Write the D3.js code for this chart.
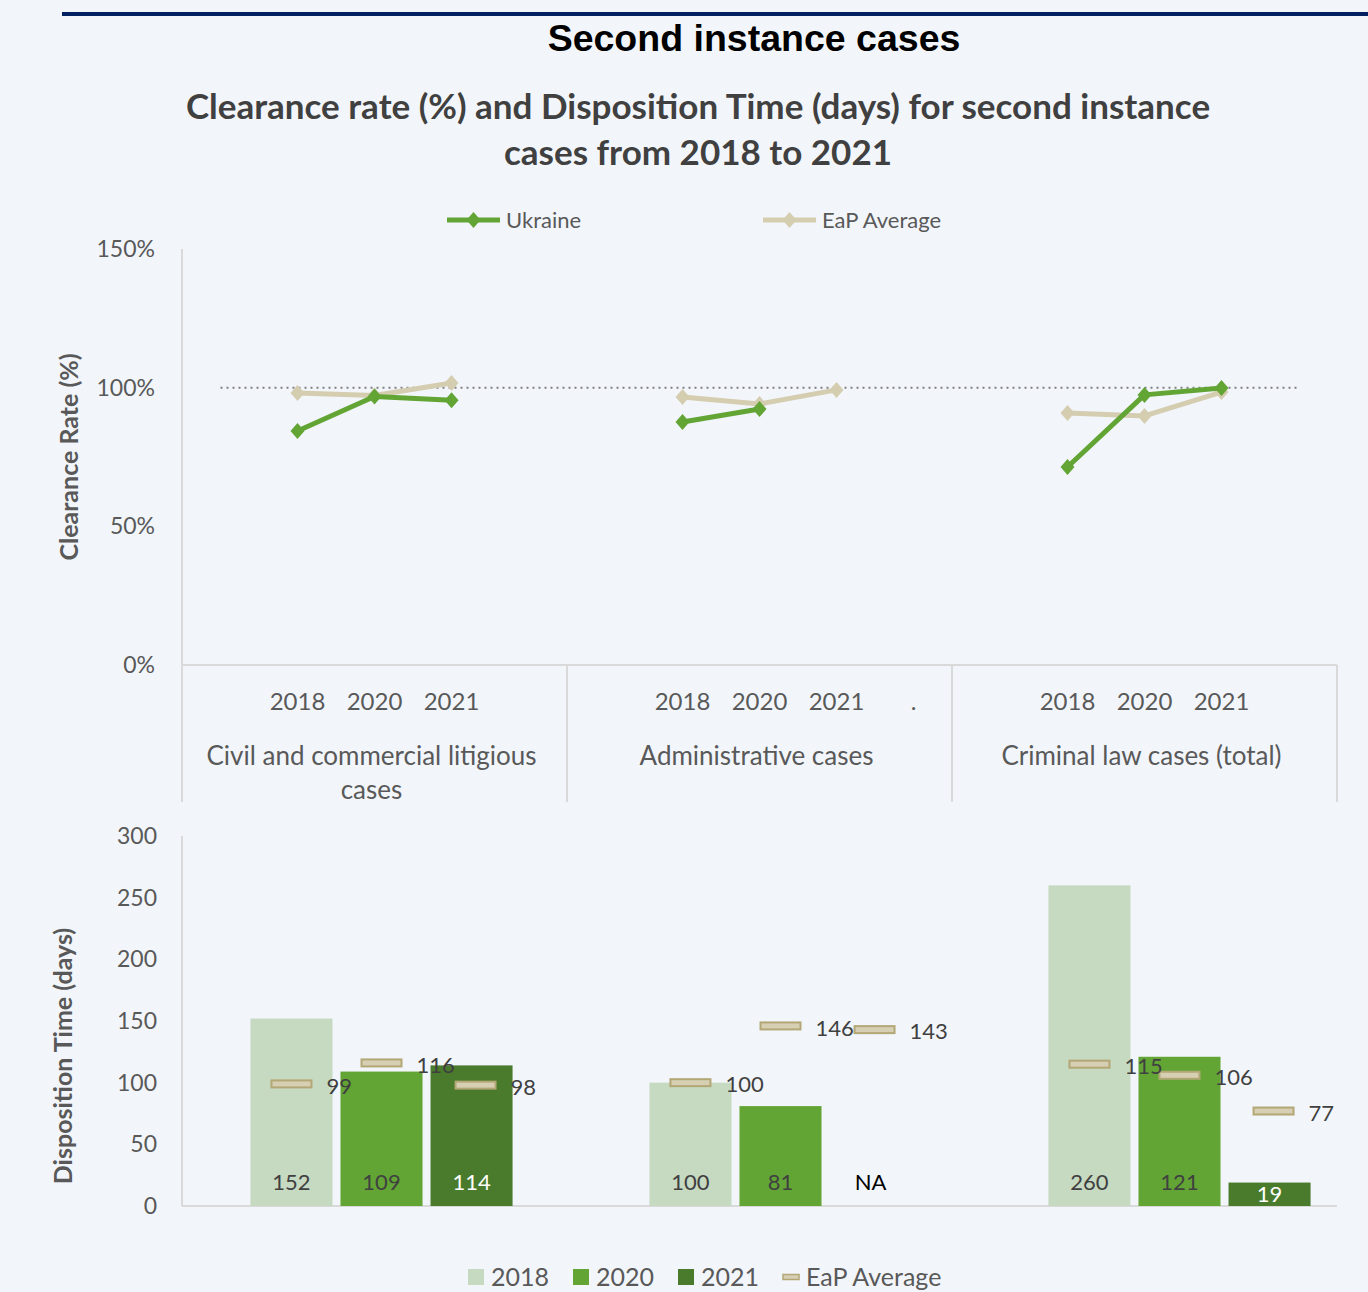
<!DOCTYPE html>
<html>
<head>
<meta charset="utf-8">
<script src="https://cdn.jsdelivr.net/npm/d3@7"></script>
<style>
  body { margin: 0; background: #f2f6fb; }
  svg { display: block; font-family: Lato, "Open Sans", sans-serif; }
</style>
</head>
<body>
<script>
// chart data
var categories = ["Civil and commercial litigious cases", "Administrative cases", "Criminal law cases (total)"];
var years = ["2018", "2020", "2021"];
var crTicks = [0, 50, 100, 150];
var dtTicks = [0, 50, 100, 150, 200, 250, 300];

// clearance rate (%), one row per category
var ukraineCR = [[84.4, 96.8, 95.5], [87.6, 92.3, null], [71.4, 97.4, 99.9]];
var eapCR = [[98.1, 97.2, 101.7], [96.6, 94.1, 99.2], [90.9, 89.8, 98.4]];

// disposition time (days)
var ukraineDT = [[152, 109, 114], [100, 81, null], [260, 121, 19]];
var eapDT = [[99, 116, 98], [100, 146, 143], [115, 106, 77]];

var width = 1368, height = 1292;
var green = "#62a535", beige = "#d5cdb0", gray = "#595959", axisCol = "#d9d9d9";
var barColors = ["#c6d9c1", "#62a535", "#4a7a2b"];
var barText = ["#404040", "#404040", "#ffffff"];

var svg = d3.select("body").append("svg")
  .attr("width", width)
  .attr("height", height);

svg.append("rect").attr("width", width).attr("height", height).attr("fill", "#f2f6fb");

// header
svg.append("line")
  .attr("x1", 62).attr("x2", width).attr("y1", 14).attr("y2", 14)
  .attr("stroke", "#002060").attr("stroke-width", 4);

svg.append("text")
  .attr("x", 754).attr("y", 51)
  .attr("text-anchor", "middle")
  .style("font-family", "'Liberation Sans', Arial, sans-serif")
  .style("font-weight", "bold")
  .style("font-size", "37.5px")
  .attr("fill", "#000")
  .text("Second instance cases");

var sub = svg.append("text")
  .attr("text-anchor", "middle")
  .style("font-weight", "bold")
  .style("font-size", "35px")
  .attr("fill", "#404040");
sub.append("tspan").attr("x", 698).attr("y", 119).text("Clearance rate (%) and Disposition Time (days) for second instance");
sub.append("tspan").attr("x", 698).attr("y", 165).text("cases from 2018 to 2021");

// ---------- top chart: clearance rate ----------
var crBox = { left: 182, right: 1337, top: 249, bottom: 665, foot: 802 };

var xCat = d3.scaleBand().domain(categories).range([crBox.left, crBox.right]);
var slots = ["", "2018", "2020", "2021", "."];
var xSlot = d3.scaleBand().domain(d3.range(5)).range([0, xCat.bandwidth()]);
function slotX(ci, si) { return xCat(categories[ci]) + xSlot(si) + xSlot.bandwidth() / 2; }

var yCR = d3.scaleLinear().domain([0, 150]).range([crBox.bottom, crBox.top]);

// axis frame
svg.append("line")
  .attr("x1", crBox.left).attr("x2", crBox.right)
  .attr("y1", yCR(0)).attr("y2", yCR(0))
  .attr("stroke", axisCol).attr("stroke-width", 2);
svg.selectAll(".sep")
  .data(categories.concat([null]))
  .enter().append("line")
  .attr("x1", (d, i) => crBox.left + i * xCat.bandwidth())
  .attr("x2", (d, i) => crBox.left + i * xCat.bandwidth())
  .attr("y1", (d, i) => i === 0 ? crBox.top : yCR(0))
  .attr("y2", crBox.foot)
  .attr("stroke", axisCol).attr("stroke-width", 2);

svg.selectAll(".crTick")
  .data(crTicks)
  .enter().append("text")
  .attr("x", 155).attr("y", d => yCR(d))
  .attr("dy", "0.35em")
  .attr("text-anchor", "end")
  .style("font-size", "23px")
  .attr("fill", gray)
  .text(d => d + "%");

svg.append("text")
  .attr("transform", "translate(78,457) rotate(-90)")
  .attr("text-anchor", "middle")
  .style("font-size", "25px")
  .style("font-weight", "bold")
  .attr("fill", gray)
  .text("Clearance Rate (%)");

// 100% reference
svg.append("line")
  .attr("x1", slotX(0, 0)).attr("x2", slotX(2, 4))
  .attr("y1", yCR(100)).attr("y2", yCR(100))
  .attr("stroke", "#808080").attr("stroke-width", 2)
  .attr("stroke-dasharray", "2,4");

// year labels
categories.forEach(function(c, ci) {
  slots.forEach(function(s, si) {
    if (!s || (s === "." && ci !== 1)) return;
    svg.append("text")
      .attr("x", slotX(ci, si)).attr("y", 702)
      .attr("dy", "0.35em")
      .attr("text-anchor", "middle")
      .style("font-size", "24px")
      .attr("fill", gray)
      .text(s);
  });
});

// category labels with simple wrapping
categories.forEach(function(c, ci) {
  var t = svg.append("text")
    .attr("text-anchor", "middle")
    .style("font-size", "26px")
    .attr("fill", gray);
  var words = c.split(" "), line = [], lines = [];
  var probe = t.append("tspan");
  words.forEach(function(w) {
    line.push(w);
    probe.text(line.join(" "));
    if (probe.node().getComputedTextLength() > xCat.bandwidth() - 20 && line.length > 1) {
      line.pop();
      lines.push(line.join(" "));
      line = [w];
    }
  });
  lines.push(line.join(" "));
  probe.remove();
  lines.forEach(function(l, li) {
    t.append("tspan")
      .attr("x", xCat(c) + xCat.bandwidth() / 2 - 3)
      .attr("y", 756 + li * 34)
      .attr("dy", "0.35em")
      .text(l);
  });
});

var diamond = "M0,-8L7,0L0,8L-7,0Z";
var lineGen = d3.line()
  .defined(d => d.v != null)
  .x(d => d.x)
  .y(d => yCR(d.v));

function drawSeries(rows, color) {
  rows.forEach(function(row, ci) {
    var pts = row.map((v, i) => ({ x: slotX(ci, i + 1), v: v }));
    svg.append("path")
      .datum(pts)
      .attr("d", lineGen)
      .attr("fill", "none")
      .attr("stroke", color)
      .attr("stroke-width", 5)
      .attr("stroke-linejoin", "round");
    svg.selectAll(null)
      .data(pts.filter(d => d.v != null))
      .enter().append("path")
      .attr("d", diamond)
      .attr("transform", d => "translate(" + d.x + "," + yCR(d.v) + ")")
      .attr("fill", color);
  });
}
drawSeries(eapCR, beige);
drawSeries(ukraineCR, green);

// top legend
[{ name: "Ukraine", color: green, x: 447 }, { name: "EaP Average", color: beige, x: 763 }].forEach(function(l) {
  var g = svg.append("g").attr("transform", "translate(" + l.x + ",220)");
  g.append("line").attr("x1", 0).attr("x2", 53).attr("stroke", l.color).attr("stroke-width", 5);
  g.append("path").attr("d", diamond).attr("transform", "translate(26.5,0)").attr("fill", l.color);
  g.append("text").attr("x", 59).attr("dy", "0.35em")
    .style("font-size", "22px").attr("fill", gray).text(l.name);
});

// ---------- bottom chart: disposition time ----------
var dtBox = { left: 182, right: 1337, top: 836, bottom: 1206 };
var xGroup = d3.scaleBand().domain(categories).range([dtBox.left, 1379]);
var xYear = d3.scaleBand().domain(years).range([0, xGroup.bandwidth()])
  .paddingInner(0.089).paddingOuter(0.76);
var yDT = d3.scaleLinear().domain([0, 300]).range([dtBox.bottom, dtBox.top]);

svg.append("line")
  .attr("x1", dtBox.left).attr("x2", dtBox.right)
  .attr("y1", yDT(0)).attr("y2", yDT(0))
  .attr("stroke", axisCol).attr("stroke-width", 2);
svg.append("line")
  .attr("x1", dtBox.left).attr("x2", dtBox.left)
  .attr("y1", dtBox.top).attr("y2", dtBox.bottom)
  .attr("stroke", axisCol).attr("stroke-width", 2);

svg.selectAll(".dtTick")
  .data(dtTicks)
  .enter().append("text")
  .attr("x", 157).attr("y", d => yDT(d))
  .attr("dy", "0.35em")
  .attr("text-anchor", "end")
  .style("font-size", "23px")
  .attr("fill", gray)
  .text(d => d);

svg.append("text")
  .attr("transform", "translate(72," + ((dtBox.top + dtBox.bottom) / 2 + 35) + ") rotate(-90)")
  .attr("text-anchor", "middle")
  .style("font-size", "25px")
  .style("font-weight", "bold")
  .attr("fill", gray)
  .text("Disposition Time (days)");

var bars = [];
categories.forEach(function(c, ci) {
  years.forEach(function(y, yi) {
    bars.push({ cat: c, year: y, yi: yi, v: ukraineDT[ci][yi], eap: eapDT[ci][yi] });
  });
});

var bx = d => xGroup(d.cat) + xYear(d.year);

svg.selectAll(".bar")
  .data(bars.filter(d => d.v != null))
  .enter().append("rect")
  .attr("x", bx)
  .attr("y", d => yDT(d.v))
  .attr("width", xYear.bandwidth())
  .attr("height", d => yDT(0) - yDT(d.v))
  .attr("fill", d => barColors[d.yi]);

svg.selectAll(".barLabel")
  .data(bars)
  .enter().append("text")
  .attr("x", d => bx(d) + xYear.bandwidth() / 2)
  .attr("y", d => d.v == null ? yDT(0) - 24 : Math.max(yDT(0) - 24, (yDT(d.v) + yDT(0)) / 2))
  .attr("dy", "0.35em")
  .attr("text-anchor", "middle")
  .style("font-size", "22px")
  .attr("fill", d => d.v == null ? "#000" : barText[d.yi])
  .text(d => d.v == null ? "NA" : d.v);

// EaP average markers
var eapShift = [0, 0, 4];
svg.selectAll(".eap")
  .data(bars)
  .enter().append("rect")
  .attr("x", d => bx(d) + xYear.bandwidth() / 2 - 20 + eapShift[d.yi])
  .attr("y", d => yDT(d.eap) - 3.5)
  .attr("width", 40).attr("height", 7)
  .attr("fill", "#d6cfb3")
  .attr("stroke", "#b3a776").attr("stroke-width", 2);

svg.selectAll(".eapLabel")
  .data(bars)
  .enter().append("text")
  .attr("x", d => bx(d) + xYear.bandwidth() / 2 + 35 + eapShift[d.yi])
  .attr("y", d => yDT(d.eap) + 2)
  .attr("dy", "0.35em")
  .style("font-size", "22px")
  .attr("fill", "#404040")
  .text(d => d.eap);

// bottom legend
var leg = svg.append("g").attr("transform", "translate(0,1277)");
years.forEach(function(y, i) {
  var x0 = 468 + i * 105;
  leg.append("rect").attr("x", x0).attr("y", -8).attr("width", 16).attr("height", 16).attr("fill", barColors[i]);
  leg.append("text").attr("x", x0 + 23).attr("dy", "0.35em")
    .style("font-size", "25px").attr("fill", gray).text(y);
});
leg.append("rect").attr("x", 783).attr("y", -2.5).attr("width", 16).attr("height", 5)
  .attr("fill", "#d6cfb3").attr("stroke", "#b3a776").attr("stroke-width", 1.5);
leg.append("text").attr("x", 806).attr("dy", "0.35em")
  .style("font-size", "25px").attr("fill", gray).text("EaP Average");
</script>
</body>
</html>
